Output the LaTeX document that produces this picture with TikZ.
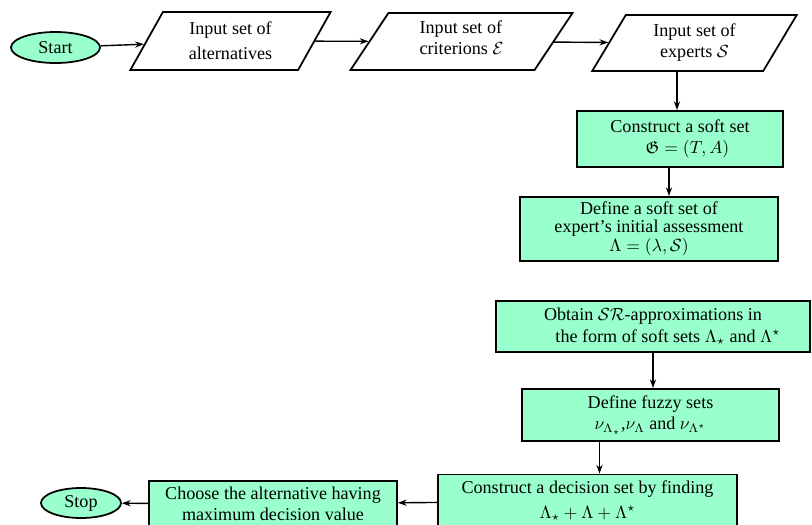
\documentclass[tikz,border=0pt]{standalone}
\usepackage{amsmath,amssymb}
\usepackage{fontspec}
\setmainfont{Liberation Serif}[Scale=1.03]
\usepackage{xcolor}
\usepackage{tikz}
\usetikzlibrary{shapes.geometric, arrows.meta, positioning, calc}
\definecolor{mint}{RGB}{153,255,204}
\tikzset{
  term/.style = {ellipse, draw=black, fill=mint, line width=1pt,
                 inner sep=0pt, font=\rmfamily},
  io/.style   = {trapezium, trapezium left angle=63, trapezium right angle=117,
                 trapezium stretches=true, draw=black, fill=white, line width=1pt,
                 inner sep=1pt, align=center, font=\rmfamily},
  proc/.style = {rectangle, draw=black, fill=mint, line width=1pt,
                 inner sep=1pt, align=center, font=\rmfamily},
  arr/.style  = {-{Stealth[length=5pt,width=3.5pt]}, thick, draw=black},
}
\begin{document}
\begin{tikzpicture}[>=Stealth, thick]
  \useasboundingbox (0,0) rectangle (16.24,-10.5);
  \clip (0,0) rectangle (16.24,-10.5);

  % Start and inputs
  \node[term, minimum width=1.78cm, minimum height=0.62cm]
        (start) at (1.11,-0.95) {Start};
  \node[io, minimum width=4.02cm, minimum height=1.16cm]
        (alt) at (4.61,-0.82) {Input set of\\[2pt]alternatives};
  \node[io, minimum width=4.46cm, minimum height=1.14cm, align=left]
        (crit) at (9.23,-0.83) {\raisebox{4pt}{\shortstack[l]{Input set of\\criterions $\mathcal{E}$}}};
  \node[io, minimum width=4.10cm, minimum height=1.12cm]
        (exp) at (13.89,-0.86) {Input set of\\experts $\mathcal{S}$};

  % Soft sets
  \node[proc, minimum width=4.12cm, minimum height=1.12cm]
        (soft) at (13.60,-2.78) {Construct a soft set\\\hspace*{0.3cm}$\mathfrak{G}=(T,A)$};
  \node[proc, minimum width=5.16cm, minimum height=1.28cm]
        (assess) at (12.98,-4.58)
        {Define a soft set of\\[-2pt]expert's initial assessment\\[-1pt]$\Lambda=(\lambda,\mathcal{S})$};

  % Approximations
  \node[proc, minimum width=6.28cm, minimum height=1.02cm]
        (approx) at (13.06,-6.53)
        {Obtain $\mathcal{SR}$-approximations in\\\hspace*{0.6cm}the form of soft sets $\Lambda_\star$ and $\Lambda^\star$};
  \node[proc, minimum width=5.14cm, minimum height=1.04cm]
        (fuzzy) at (13.01,-8.30)
        {Define fuzzy sets\\$\nu_{\Lambda_\star}$,$\nu_{\Lambda}$ and $\nu_{\Lambda^\star}$};

  % Decision
  \node[proc, minimum width=5.98cm, minimum height=1.06cm]
        (dec) at (11.75,-10.02)
        {Construct a decision set by finding\\[2pt]$\Lambda_\star+\Lambda+\Lambda^\star$};
  \node[proc, minimum width=4.96cm, minimum height=0.92cm]
        (choose) at (5.46,-10.08)
        {Choose the alternative having\\maximum decision value};
  \node[term, minimum width=1.60cm, minimum height=0.60cm]
        (stop) at (1.62,-10.06) {Stop};

  % Arrows
  \draw[arr] (start) -- (alt);
  \draw[arr] (alt) -- (crit);
  \draw[arr] (crit) -- (exp);
  \draw[arr] ([xshift=-0.06cm]soft.north |- exp.south) -- ([xshift=-0.06cm]soft.north);
  \draw[arr] ([xshift=-0.22cm]soft.south) -- ([xshift=-0.22cm]soft.south |- assess.north);
  \draw[arr] (approx.south) -- (approx.south |- fuzzy.north);
  \draw[arr] ([xshift=-1.02cm]fuzzy.south) -- ([xshift=-1.02cm]fuzzy.south |- dec.north);
  \draw[arr] (dec) -- (choose);
  \draw[arr] (choose) -- (stop);
\end{tikzpicture}
\end{document}
